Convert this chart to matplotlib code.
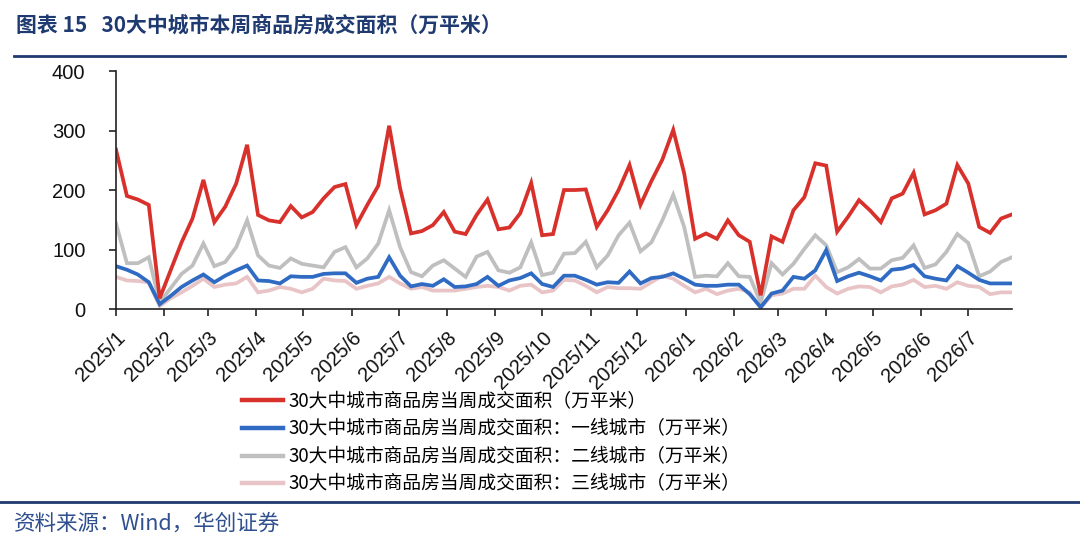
import matplotlib
matplotlib.use("Agg")
import matplotlib.pyplot as plt
import matplotlib.dates as mdates
from matplotlib.lines import Line2D
import numpy as np
import pandas as pd

plt.rcParams['font.family'] = ['Noto Sans CJK SC', 'DejaVu Sans']

# weekly data, 83 weeks starting 2025-01-05
start_date = "2025-01-05"
n_weeks = 83

total = [268, 190, 184, 175, 18, 65, 112, 152, 217, 146, 172, 211, 276, 158, 149, 146,
         173, 154, 163, 186, 205, 210, 141, 175, 207, 308, 203, 127, 131, 141, 163, 130,
         126, 158, 184, 134, 137, 161, 212, 124, 126, 200, 200, 201, 138, 166, 200, 242,
         175, 215, 251, 301, 228, 118, 127, 118, 149, 124, 113, 23, 122, 113, 166, 188,
         245, 241, 130, 155, 183, 166, 146, 186, 194, 229, 159, 166, 177, 242, 211, 138,
         128, 152, 159]
tier1 = [72, 66, 58, 45, 8, 22, 37, 48, 58, 45, 56, 65, 73, 48, 47, 43,
         55, 54, 54, 59, 60, 60, 44, 51, 54, 87, 56, 38, 42, 39, 50, 37,
         38, 42, 54, 39, 48, 52, 60, 42, 37, 56, 56, 49, 41, 45, 44, 63,
         43, 52, 54, 60, 51, 41, 39, 39, 41, 41, 25, 3, 26, 31, 54, 51,
         65, 99, 47, 55, 61, 55, 48, 66, 68, 74, 55, 51, 48, 72, 61, 49,
         43, 43, 43]
tier2 = [144, 77, 77, 87, 11, 35, 59, 73, 110, 72, 79, 104, 149, 90, 73, 69,
         85, 76, 73, 70, 96, 104, 70, 85, 110, 166, 104, 62, 55, 73, 82, 68,
         54, 88, 96, 65, 61, 70, 112, 57, 61, 93, 94, 113, 70, 90, 124, 145,
         97, 112, 149, 192, 138, 54, 56, 55, 77, 55, 54, 11, 77, 58, 76, 101,
         124, 107, 62, 70, 84, 68, 68, 82, 86, 107, 69, 75, 96, 126, 111, 55,
         63, 79, 87]
tier3 = [54, 48, 47, 45, 5, 18, 28, 39, 51, 37, 41, 43, 54, 28, 31, 37,
         34, 28, 34, 51, 48, 47, 34, 39, 43, 54, 43, 34, 37, 31, 31, 31,
         34, 37, 39, 37, 31, 39, 41, 28, 31, 49, 48, 39, 28, 37, 35, 35,
         34, 45, 56, 51, 39, 28, 34, 25, 31, 34, 28, 2, 23, 26, 34, 34,
         56, 37, 26, 34, 38, 37, 28, 38, 41, 49, 37, 39, 34, 45, 39, 37,
         25, 28, 28]

labels = ["30大中城市商品房当周成交面积（万平米）",
          "30大中城市商品房当周成交面积：一线城市（万平米）",
          "30大中城市商品房当周成交面积：二线城市（万平米）",
          "30大中城市商品房当周成交面积：三线城市（万平米）"]
colors = ["#D8312C", "#2F6BC3", "#BFBFBF", "#E9C4C6"]

dates = pd.date_range(start_date, periods=n_weeks, freq="7D")
navy = "#1F3A70"

fig = plt.figure(figsize=(10.8, 5.48), dpi=100)
ax = fig.add_axes([0.1074, 0.4361, 0.8296, 0.4343])

# draw lowest tiers first so the total line sits on top
order = [3, 2, 1, 0]
series = [total, tier1, tier2, tier3]
for i in order:
    ax.plot(dates, series[i], color=colors[i], linewidth=2.7, solid_joinstyle="miter")

ax.set_xlim(dates[0], dates[-1])
ax.set_ylim(0, 400)
ax.set_yticks(np.arange(0, 401, 100))
ax.xaxis.set_major_locator(mdates.MonthLocator(bymonthday=5))
ax.xaxis.set_major_formatter(mdates.DateFormatter("%Y/%-m"))

for s in ["top", "right"]:
    ax.spines[s].set_visible(False)
for s in ["left", "bottom"]:
    ax.spines[s].set_linewidth(1.2)
    ax.spines[s].set_color("#222222")

ax.tick_params(axis="both", direction="out", length=5, width=1.2, color="#222222",
               labelsize=14.5, labelcolor="#111111")
ax.tick_params(axis="y", pad=17)
ax.tick_params(axis="x", pad=9)
for lab in ax.get_xticklabels():
    lab.set_rotation(45)
    lab.set_ha("right")
    lab.set_va("top")
    lab.set_rotation_mode("anchor")
for lab in ax.get_xticklabels() + ax.get_yticklabels():
    lab.set_family(["Liberation Sans", "DejaVu Sans"])

handles = [Line2D([0], [0], color=c, linewidth=3.2) for c in colors]
fig.legend(handles, labels, loc="upper left", bbox_to_anchor=(0.224, 0.2865),
           frameon=False, fontsize=13.5, handlelength=2.2, handletextpad=0.27,
           labelspacing=0.35, borderpad=0, borderaxespad=0)

# title and rules
fig.text(0.015, 0.954, "图表 15   30大中城市本周商品房成交面积（万平米）", color=navy,
         fontsize=15, fontweight="bold", va="center", ha="left")
fig.add_artist(Line2D([0.013, 0.986], [0.898, 0.898], color=navy, linewidth=2))
fig.add_artist(Line2D([0.0, 1.0], [0.084, 0.084], color=navy, linewidth=2))
fig.text(0.013, 0.045, "资料来源：Wind，华创证券", color="#2F4F8F", fontsize=15.5,
         style="italic", va="center", ha="left")

fig.savefig("out.png", dpi=100)
